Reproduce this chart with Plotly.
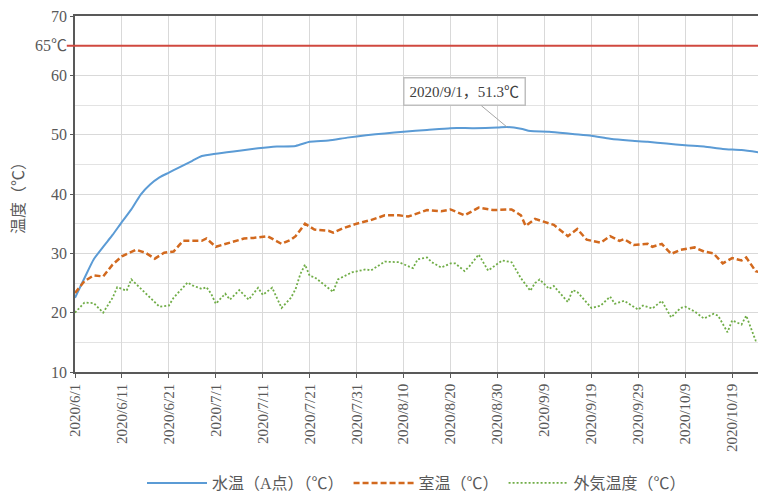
import plotly.graph_objects as go
import pandas as pd

# ---- data ----
water_dates = ["6/1","6/3","6/5","6/7","6/9","6/11","6/13","6/15","6/17","6/19","6/21","6/23","6/26","6/28",
               "7/1","7/6","7/10","7/14","7/18","7/21","7/25","7/29","8/2","8/6","8/10","8/15","8/20","8/25",
               "8/30","9/1","9/4","9/6","9/10","9/15","9/19","9/23","9/27","10/1","10/5","10/9","10/13",
               "10/17","10/21","10/25"]
water_vals = [22.5,25.8,29.0,31.1,33.1,35.3,37.4,39.9,41.6,42.8,43.6,44.4,45.6,46.4,
              46.8,47.3,47.7,48.0,48.1,48.8,49.0,49.5,49.9,50.2,50.5,50.8,51.1,51.1,
              51.2,51.3,51.0,50.6,50.5,50.1,49.8,49.3,49.0,48.8,48.5,48.2,48.0,
              47.6,47.4,47.0]

room_dates = ["6/1","6/3","6/5","6/7","6/9","6/11","6/14","6/16","6/18","6/20","6/22","6/24","6/28","6/29",
              "7/1","7/3","7/7","7/9","7/12","7/15","7/17","7/18","7/20","7/22","7/25","7/26","7/28","7/31",
              "8/3","8/6","8/9","8/11","8/15","8/18","8/20","8/23","8/26","8/29","9/2","9/4","9/5","9/7",
              "9/10","9/11","9/14","9/16","9/18","9/21","9/23","9/25","9/26","9/28","10/1","10/2","10/4",
              "10/6","10/8","10/11","10/13","10/15","10/17","10/19","10/21","10/22","10/24","10/25"]
room_vals = [23.3,25.3,26.3,26.1,28.1,29.5,30.6,30.1,29.1,30.1,30.3,32.1,32.1,32.5,
             31.1,31.6,32.5,32.6,32.9,31.6,32.3,32.9,35.0,34.0,33.8,33.5,34.2,35.0,
             35.6,36.4,36.4,36.2,37.3,37.1,37.4,36.4,37.7,37.3,37.4,36.4,34.6,35.8,
             35.0,34.8,32.9,34.1,32.3,31.8,32.9,32.1,32.4,31.4,31.6,31.1,31.6,
             29.9,30.6,31.0,30.3,30.0,28.3,29.2,28.8,29.3,27.0,26.8]

out_dates = ["6/1","6/3","6/5","6/7","6/9","6/10","6/12","6/13","6/16","6/19","6/21","6/22","6/25","6/26",
             "6/28","6/29","6/30","7/1","7/3","7/4","7/6","7/8","7/10","7/11","7/13","7/15","7/17","7/18",
             "7/19","7/20","7/21","7/22","7/26","7/27","7/30","8/2","8/3","8/6","8/9","8/12","8/13","8/15",
             "8/16","8/18","8/20","8/21","8/23","8/24","8/26","8/28","8/31","9/2","9/4","9/6","9/7","9/8",
             "9/10","9/11","9/14","9/15","9/16","9/19","9/21","9/23","9/24","9/26","9/29","9/30","10/2",
             "10/4","10/6","10/8","10/9","10/11","10/13","10/15","10/16","10/18","10/19","10/21","10/22",
             "10/24","10/25"]
out_vals = [20.0,21.7,21.6,20.0,22.5,24.3,23.7,25.6,23.3,21.0,21.2,22.5,25.1,24.6,
            24.0,24.3,23.2,21.5,23.2,22.2,23.8,22.2,24.2,23.0,24.2,20.8,22.5,24.0,
            26.5,28.1,26.2,26.0,23.5,25.6,26.8,27.3,27.1,28.6,28.5,27.5,29.0,29.3,
            28.5,27.6,28.3,28.3,27.0,27.8,29.8,27.1,28.8,28.5,25.8,23.7,25.0,25.6,
            24.0,24.5,21.8,23.8,23.5,20.8,21.2,22.7,21.5,22.0,20.5,21.2,20.7,
            22.0,19.2,20.8,21.0,20.2,19.0,19.8,19.5,16.7,18.7,18.0,19.5,
            15.3,15.5]

tick_labels = ["2020/6/1","2020/6/11","2020/6/21","2020/7/1","2020/7/11","2020/7/21","2020/7/31",
               "2020/8/10","2020/8/20","2020/8/30","2020/9/9","2020/9/19","2020/9/29","2020/10/9",
               "2020/10/19"]
y_tick_vals = [10, 20, 30, 40, 50, 60, 65, 70]
y_tick_text = ["10", "20", "30", "40", "50", "60", "65℃", "70"]
threshold = 65
peak_date = "2020/9/1"
peak_val = 51.3
x_end = "2020-10-24 12:00"

names = ["水温（A点）（℃）", "室温（℃）", "外気温度（℃）"]

def to_dt(lst):
    return pd.to_datetime(["2020/" + s for s in lst], format="%Y/%m/%d")

SERIF = "Liberation Serif, Times New Roman, Noto Sans CJK JP, serif"
GRAY = "#595959"

fig = go.Figure()
fig.add_trace(go.Scatter(x=to_dt(water_dates), y=water_vals, mode="lines", name=names[0],
                         line=dict(color="#5B9BD5", width=2, shape="spline", smoothing=0.6)))
fig.add_trace(go.Scatter(x=to_dt(room_dates), y=room_vals, mode="lines", name=names[1],
                         line=dict(color="#D2691E", width=2.5, dash="6px,3px")))
fig.add_trace(go.Scatter(x=to_dt(out_dates), y=out_vals, mode="lines", name=names[2],
                         line=dict(color="#70AD47", width=1.8, dash="2px,2px")))

fig.add_shape(type="line", xref="paper", yref="y", x0=-0.012, x1=1, y0=threshold, y1=threshold,
              line=dict(color="#D0493F", width=2))

fig.add_annotation(x=pd.to_datetime(peak_date, format="%Y/%m/%d"), y=peak_val,
                   text=f"{peak_date}，{peak_val}℃", showarrow=True, arrowhead=0,
                   arrowcolor="#A6A6A6", arrowwidth=1, ax=-42, ay=-35,
                   bgcolor="white", bordercolor="#BFBFBF", borderwidth=1.5, borderpad=5,
                   font=dict(family=SERIF, size=15, color="#404040"))

fig.update_layout(
    width=758, height=500,
    margin=dict(l=75, r=0, t=16, b=123),
    paper_bgcolor="white", plot_bgcolor="white",
    font=dict(family=SERIF, color=GRAY),
    showlegend=True,
    legend=dict(orientation="h", x=0.5, xanchor="center", y=-0.313, yanchor="middle",
                font=dict(family=SERIF, size=16, color=GRAY), itemwidth=60,
                traceorder="normal"),
)

fig.update_xaxes(
    range=[pd.to_datetime("2020-06-01"), pd.to_datetime(x_end)],
    tickvals=pd.to_datetime(tick_labels, format="%Y/%m/%d"), ticktext=tick_labels,
    tickangle=-90, tickfont=dict(family=SERIF, size=15, color=GRAY),
    showgrid=True, gridcolor="#D9D9D9", gridwidth=1,
    showline=True, linecolor="#595959", linewidth=1.5, mirror=True,
    ticks="outside", ticklen=4, tickcolor="#595959", automargin=False,
)
fig.update_yaxes(
    range=[10, 70], tickvals=y_tick_vals, ticktext=y_tick_text,
    tickfont=dict(family=SERIF, size=16, color=GRAY),
    showgrid=True, gridcolor="#D9D9D9", gridwidth=1,
    minor=dict(dtick=5, showgrid=True, gridcolor="#E3E3E3"),
    showline=True, linecolor="#595959", linewidth=1.5,
    ticks="outside", ticklen=3, tickcolor="#595959",
    title=dict(text="温度（℃）", font=dict(family=SERIF, size=16, color=GRAY), standoff=6),
    zeroline=False, automargin=False,
)

fig.write_html("out.html", config={"displayModeBar": False},
               post_script="document.body.style.margin='0';document.body.style.overflow='hidden';")
